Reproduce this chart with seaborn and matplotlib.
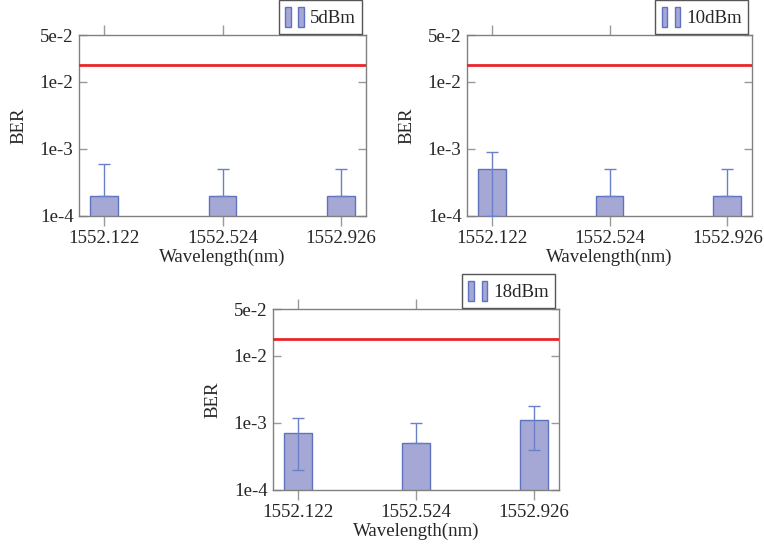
import numpy as np
import pandas as pd
import matplotlib
matplotlib.use("Agg")
import matplotlib.pyplot as plt
import seaborn as sns
from matplotlib.patches import Rectangle
from matplotlib.legend_handler import HandlerTuple
from matplotlib.ticker import FixedLocator, NullLocator

# ---- data ----
wavelengths = ["1552.122", "1552.524", "1552.926"]
ber_5dbm = [2e-4, 2e-4, 2e-4]
err_5dbm = [4e-4, 3e-4, 3e-4]
ber_10dbm = [5e-4, 2e-4, 2e-4]
err_10dbm = [4e-4, 3e-4, 3e-4]
ber_18dbm = [7e-4, 5e-4, 1.1e-3]
err_18dbm = [5e-4, 5e-4, 7e-4]
fec_threshold = 1.8e-2
panel_labels = ["5dBm", "10dBm", "18dBm"]
y_ticks = [1e-4, 1e-3, 1e-2, 5e-2]
y_ticklabels = ["1e-4", "1e-3", "1e-2", "5e-2"]

sns.set_theme(style="white")
plt.rcParams["font.family"] = ["Liberation Serif", "DejaVu Serif"]

FILL = "#a5a8d4"
EDGE = "#5f72c0"
ERRC = "#6a80c8"
RED = "#e8262a"
SPINE = "#808080"
TICKC = "#9a9a9a"
FS = 13.6

fig = plt.figure(figsize=(7.64, 5.45), dpi=100)
positions = [
    [79 / 764, (545 - 216) / 545, 287 / 764, 181 / 545],
    [467 / 764, (545 - 216) / 545, 285 / 764, 181 / 545],
    [273 / 764, (545 - 490) / 545, 286 / 764, 181 / 545],
]
series = [(ber_5dbm, err_5dbm), (ber_10dbm, err_10dbm), (ber_18dbm, err_18dbm)]

for pos, (vals, errs), lab in zip(positions, series, panel_labels):
    ax = fig.add_axes(pos)
    df = pd.DataFrame({"Wavelength": wavelengths, "BER": vals})
    sns.barplot(data=df, x="Wavelength", y="BER", ax=ax, color=FILL,
                edgecolor=EDGE, linewidth=1.0, width=0.235, saturation=1,
                errorbar=None, zorder=2)
    ax.set_yscale("log")
    v = np.array(vals)
    e = np.array(errs)
    lower = np.where(v - e > 0, e, 0.0)
    xs = np.arange(len(wavelengths))
    ax.errorbar(xs, v, yerr=[lower, e], fmt="none", ecolor=ERRC,
                elinewidth=1.0, capsize=4, capthick=1.0, zorder=3)
    ax.axhline(fec_threshold, color=RED, linewidth=2, zorder=4)
    ax.set_xlim(-0.21, 2.21)
    ax.set_ylim(1e-4, 5e-2)
    ax.yaxis.set_major_locator(FixedLocator(y_ticks))
    ax.set_yticklabels(y_ticklabels)
    ax.yaxis.set_minor_locator(NullLocator())
    ax.set_xlabel("Wavelength(nm)", fontsize=FS, labelpad=1)
    ax.set_ylabel("BER", fontsize=FS, labelpad=9)
    for s in ax.spines.values():
        s.set_color(SPINE)
        s.set_linewidth(1.0)
    ax.tick_params(axis="x", which="major", direction="out", length=7,
                   width=1, color=TICKC, top=True, bottom=True,
                   labelsize=FS, pad=3)
    ax.tick_params(axis="y", which="major", direction="in", length=6,
                   width=1, color=TICKC, left=True, right=True,
                   labelsize=FS, pad=4)
    h = (Rectangle((0, 0), 1, 1, facecolor=FILL, edgecolor=EDGE, linewidth=1),
         Rectangle((0, 0), 1, 1, facecolor=FILL, edgecolor=EDGE, linewidth=1))
    leg = ax.legend([h], [lab], handler_map={tuple: HandlerTuple(ndivide=None, pad=0.4)},
                    loc="lower right", bbox_to_anchor=(0.987, 1.005),
                    fontsize=FS, frameon=True, fancybox=False, framealpha=1,
                    edgecolor="#555555", handlelength=1.0, handleheight=1.3,
                    handletextpad=0.3, borderpad=0.35, borderaxespad=0)
    leg.get_frame().set_linewidth(1.0)

fig.savefig("out.png", dpi=100)
